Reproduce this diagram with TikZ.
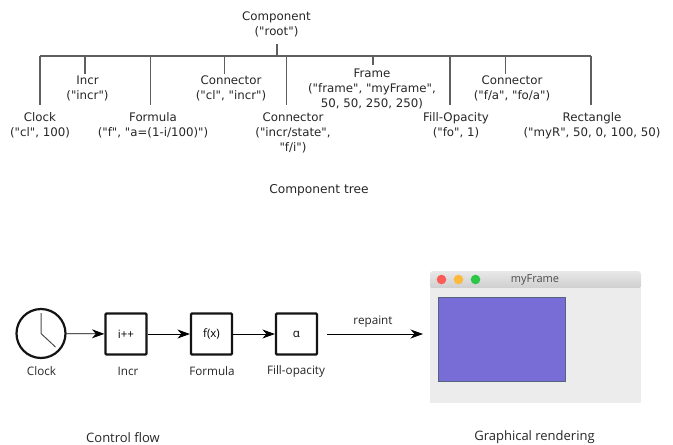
\documentclass[tikz,border=0pt]{standalone}
\usepackage{fontspec}
\newfontfamily\treefont{DejaVu Sans}
\newfontfamily\lowfont{Open Sans}
\usetikzlibrary{arrows.meta,shadings}
\definecolor{treegray}{RGB}{95,95,95}
\definecolor{inkblack}{RGB}{20,20,20}
\definecolor{winbg}{RGB}{236,236,236}
\definecolor{winrect}{RGB}{120,109,214}
\definecolor{winedge}{RGB}{85,100,125}
\definecolor{lightr}{RGB}{252,92,88}
\definecolor{lighty}{RGB}{253,185,60}
\definecolor{lightg}{RGB}{42,200,70}
\definecolor{bartop}{RGB}{232,232,232}
\definecolor{barbot}{RGB}{205,205,205}
\tikzset{
  x=1pt,y=-1pt,
  tree/.style={font=\treefont\fontsize{11.8}{15}\selectfont,align=center,inner sep=0pt,text=black!85,anchor=center},
  bus/.style={draw=treegray,line width=1.2pt},
  drop/.style={draw=treegray,line width=1.1pt},
  low/.style={font=\lowfont\fontsize{11.7}{13}\selectfont,inner sep=0pt,text=black!85},
  big/.style={font=\lowfont\fontsize{13}{15}\selectfont,inner sep=0pt,text=black!85},
  blockbox/.style={draw=inkblack,line width=2.2pt,rounded corners=1pt,minimum width=41pt,minimum height=41pt,inner sep=0pt,font=\lowfont\fontsize{11.5}{13}\selectfont},
  flow/.style={draw=black,line width=.8pt,-{Stealth[length=12.5pt,width=9pt,inset=4pt]}},
  hand/.style={draw=black!70,line width=1pt},
  light/.style={circle,inner sep=0pt,minimum size=9.6pt}
}
\begin{document}
\begin{tikzpicture}
\useasboundingbox (0,0) rectangle (673,445);
% tree
\node[tree] (root) at (276.5,24.5) {Component\\("root")};
\node[tree] (clock) at (40,125.5) {Clock\\("cl", 100)};
\node[tree] (incr) at (87.5,88.5) {Incr\\("incr")};
\node[tree] (formula) at (153,125.5) {Formula\\("f", "a=(1-i/100)")};
\node[tree] (conna) at (231,88.5) {Connector\\("cl", "incr")};
\node[tree] (connb) at (293,133) {Connector\\("incr/state",\\"f/i")};
\node[tree] (frame) at (372,89) {Frame\\("frame", "myFrame",\\50, 50, 250, 250)};
\node[tree] (fill) at (456,125.5) {Fill-Opacity\\("fo", 1)};
\node[tree] (connc) at (512,88.5) {Connector\\("f/a", "fo/a")};
\node[tree] (rect) at (592,125.5) {Rectangle\\("myR", 50, 0, 100, 50)};
\node[tree,font=\treefont\fontsize{12.2}{15}\selectfont] (ttree) at (319,190.5) {Component tree};
\coordinate (busl) at (40,56);
\coordinate (busr) at (591,56);
\coordinate (rootb) at (277,44);
\coordinate (rootj) at (277,56);
\foreach \n/\x/\y in {a/40/105,b/85/74,c/150.5/105,d/224.5/74,e/286.5/105,f/373/65,g/450/105,h/505.5/74,i/591/105}{
  \coordinate (t\n) at (\x,56);
  \coordinate (e\n) at (\x,\y);
  \draw[drop] (t\n) -- (e\n);
}
\draw[bus,line cap=square] (busl) -- (busr);
\draw[drop] (rootb) -- (rootj);
% flow
\node[circle,draw=inkblack,line width=2.2pt,minimum size=49pt,inner sep=0pt] (clk) at (41,333.5) {};
\coordinate (h1) at (41,313);
\coordinate (h2) at (55.5,347);
\draw[hand] (h1) -- (clk.center) -- (h2);
\node[blockbox] (bi) at (126,334) {i++};
\node[blockbox] (bf) at (211.5,334) {f(x)};
\node[blockbox] (ba) at (296.5,334) {α};
\draw[flow] (clk) -- (bi);
\draw[flow] (bi) -- (bf);
\draw[flow] (bf) -- (ba);
\node[low] (lc) at (41.5,371.5) {Clock};
\node[low] (li) at (128,371.5) {Incr};
\node[low] (lf) at (212,371.5) {Formula};
\node[low] (lo) at (296,371.5) {Fill-opacity};
\node[big] (tflow) at (123,438) {Control flow};
\coordinate (ra) at (327,334);
\coordinate (rb) at (423,334);
\draw[flow] (ra) -- (rb);
\node[low] (rp) at (373,322) {repaint};
% window
\fill[winbg] (430,288) rectangle (641,403);
\shade[top color=bartop,bottom color=barbot,rounded corners=3pt] (430,289) -- (430,271) -- (641,271) -- (641,289) -- cycle;
\fill[winbg] (430,288) rectangle (641,291);
\draw[winedge,line width=.8pt,fill=winrect] (438,297) rectangle (565.5,381);
\node[light,fill=lightr] (d1) at (441.5,279.5) {};
\node[light,fill=lighty] (d2) at (458.5,279.5) {};
\node[light,fill=lightg] (d3) at (475.5,279.5) {};
\node[low,font=\lowfont\fontsize{11}{13}\selectfont,text=black!70] (title) at (535,280) {myFrame};
\node[big] (tgr) at (534.5,437) {Graphical rendering};
\end{tikzpicture}
\end{document}
